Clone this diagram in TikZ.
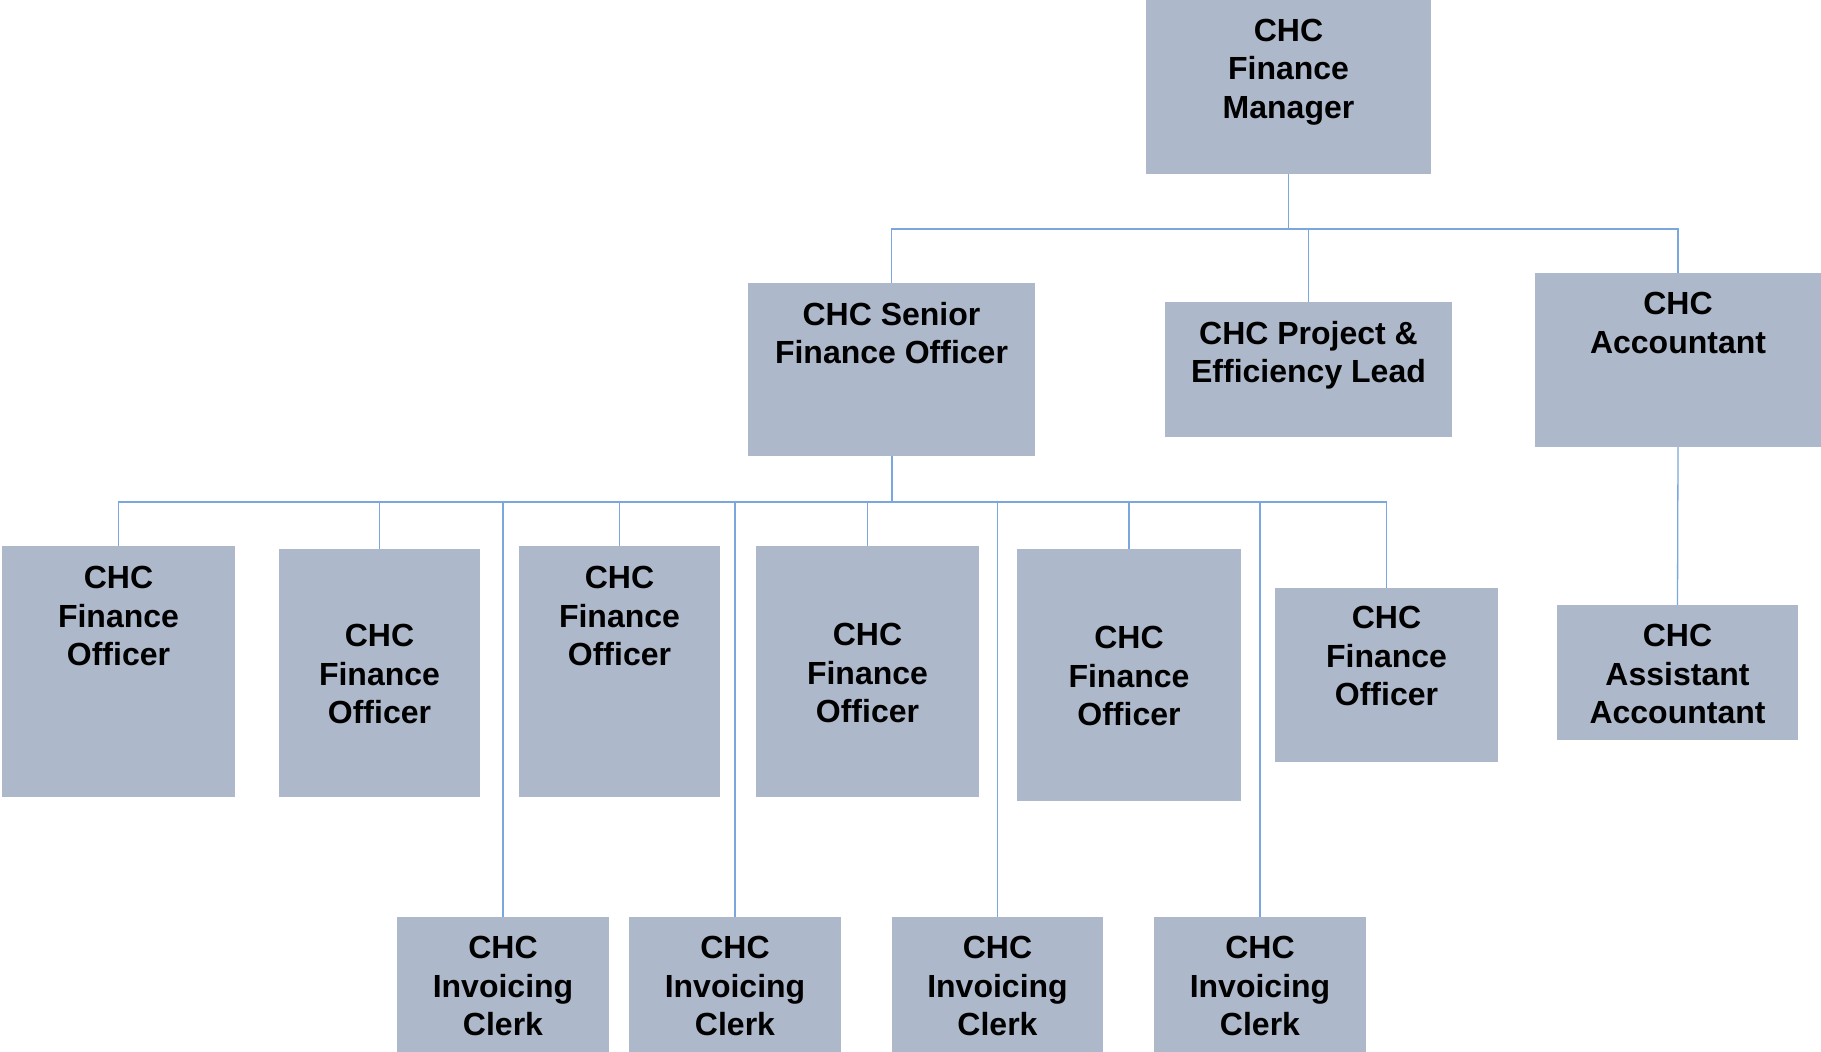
\documentclass[tikz,border=0pt]{standalone}
\usepackage{fontspec}
\setmainfont{Liberation Sans}
\definecolor{boxfill}{RGB}{173,184,202}
\definecolor{linecol}{RGB}{122,168,222}
\tikzset{
  orgbox/.style={rectangle, fill=boxfill, draw=none, inner sep=0pt},
  orgtext/.style={align=center, font=\fontsize{32}{38.5}\selectfont\bfseries, inner sep=0pt, text=black},
  conn/.style={draw=linecol, line width=1.3pt},
}
% name, x1, y1, x2, y2, text centre y, text
\newcommand\mkorgbox[7]{%
  \node[orgbox, minimum width={(#4-#2)*1pt}, minimum height={(#5-#3)*1pt}] (#1) at ({(#2+#4)/2},{(#3+#5)/2}) {};
  \node[orgtext] (#1t) at ({(#2+#4)/2},#6) {#7};
}
\begin{document}
\begin{tikzpicture}[x=1pt,y=-1pt]
\useasboundingbox (0,0) rectangle (1821,1052);
\coordinate (busA) at (0,229);
\coordinate (busB) at (0,502);
\mkorgbox{mgr}{1146}{0}{1431}{174}{72}{CHC\\Finance\\Manager}
\mkorgbox{sfo}{748}{283}{1035}{456}{333}{CHC Senior\\Finance Officer}
\mkorgbox{pel}{1165}{302}{1452}{437}{355}{CHC Project \&\\Efficiency Lead}
\mkorgbox{acc}{1535}{273}{1821}{447}{323}{CHC\\Accountant}
\mkorgbox{aac}{1557}{605}{1798}{740}{674}{CHC\\Assistant\\Accountant}
\mkorgbox{foa}{2}{546}{235}{797}{616}{CHC\\Finance\\Officer}
\mkorgbox{fob}{279}{549}{480}{797}{674}{CHC\\Finance\\Officer}
\mkorgbox{foc}{519}{546}{720}{797}{616}{CHC\\Finance\\Officer}
\mkorgbox{fod}{756}{546}{979}{797}{673}{CHC\\Finance\\Officer}
\mkorgbox{foe}{1017}{549}{1241}{801}{676}{CHC\\Finance\\Officer}
\mkorgbox{fof}{1275}{588}{1498}{762}{656}{CHC\\Finance\\Officer}
\mkorgbox{cla}{397}{917}{609}{1052}{986}{CHC\\Invoicing\\Clerk}
\mkorgbox{clb}{629}{917}{841}{1052}{986}{CHC\\Invoicing\\Clerk}
\mkorgbox{clc}{892}{917}{1103}{1052}{986}{CHC\\Invoicing\\Clerk}
\mkorgbox{cld}{1154}{917}{1366}{1052}{986}{CHC\\Invoicing\\Clerk}
\draw[conn] (mgr.south) -- (mgr.south |- busA) -| (sfo.north);
\draw[conn] (mgr.south |- busA) -| (pel.north);
\draw[conn] (mgr.south |- busA) -| (acc.north);
\draw[conn] (acc.south) -- (aac.north);
\draw[conn, line width=2pt] (sfo.south) -- (sfo.south |- busB);
\foreach \c in {foa,fob,foc,fod,foe,fof,cla,clb,clc,cld}{
  \draw[conn] (sfo.south |- busB) -| (\c.north);
}
\end{tikzpicture}
\end{document}
